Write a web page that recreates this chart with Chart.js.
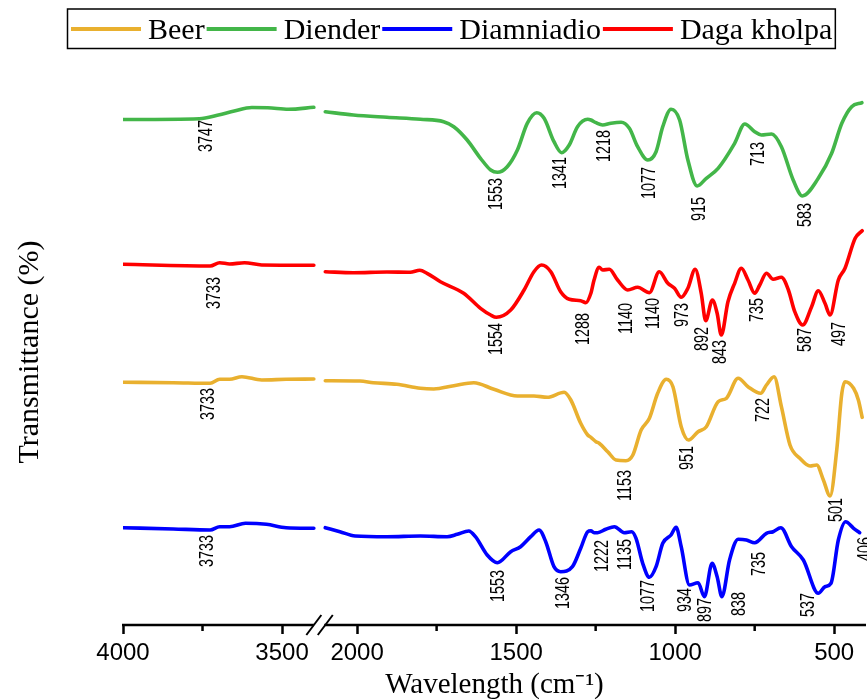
<!DOCTYPE html>
<html><head><meta charset="utf-8">
<script src="https://cdn.jsdelivr.net/npm/chart.js@4.4.1/dist/chart.umd.min.js"></script>
<style>html,body{margin:0;padding:0;background:#fff;}#wrap{width:867px;height:700px;}</style>
</head><body><div id="wrap"><canvas id="c" width="867" height="700"></canvas></div>
<script>
// ---------------- DATA ----------------
const seriesNames = ['Beer', 'Diender', 'Diamniadio', 'Daga kholpa'];
const seriesColors = ['#E9B02F', '#43B649', '#0000FF', '#FF0000'];

// broken wavenumber axis: 4000–3400 and 2100–400 cm-1
const breakGap = 36;
const majorTickLabels = [4000, 3500, 2000, 1500, 1000, 500];
const minorTickValues = [3750, 1750, 1250, 750];

// Beer
const beerWnL = [4000, 3842, 3726, 3696, 3665, 3626, 3564, 3487, 3400];
const beerTL  = [241.7, 241.3, 240.7, 244.7, 244.7, 247.3, 244, 244.7, 245];
const beerWnR = [2100, 1991, 1949, 1875, 1801, 1759, 1696, 1633, 1570, 1496, 1444, 1402, 1349, 1328, 1297, 1275, 1265, 1249, 1239, 1212, 1186, 1155, 1133, 1107, 1081, 1055, 1028, 1007, 981, 958, 928, 902, 865, 839, 802, 771, 731, 713, 689, 666, 639, 608, 576, 555, 534, 513, 492, 476, 466, 439, 424, 412];
const beerTR  = [243.3, 243, 241.3, 239.7, 235.7, 235, 238.3, 241.3, 234.7, 228, 228, 226.7, 231.7, 224, 200.7, 189, 186.7, 182.3, 180.7, 172.3, 164, 163.3, 169, 194, 205.7, 230.7, 244.7, 237.3, 197.3, 184, 192.3, 197.3, 222.3, 225.7, 245.7, 237.3, 230.7, 239, 247.3, 217.3, 179, 165.7, 158, 159, 144, 128, 174, 230.7, 242.3, 235.7, 224, 206.7];

// Diender
const dienderWnL = [4000, 3760, 3700, 3650, 3595, 3545, 3480, 3400];
const dienderTL  = [504.5, 505.3, 509, 513, 516.5, 516.3, 514.7, 516.7];
const dienderWnR = [2100, 2012, 1906, 1801, 1728, 1696, 1654, 1612, 1580, 1559, 1528, 1496, 1465, 1435, 1412, 1381, 1357, 1333, 1307, 1275, 1265, 1249, 1228, 1202, 1170, 1144, 1118, 1086, 1060, 1039, 1013, 986, 960, 931, 902, 865, 813, 781, 750, 729, 697, 666, 629, 600, 550, 508, 476, 445, 413];
const dienderTR  = [512.3, 509, 506.7, 504.7, 502.3, 497.3, 484, 465.7, 454, 451.7, 457.3, 474, 500.7, 511.3, 505.7, 482.3, 471.3, 479, 497.3, 504.7, 504, 501.3, 499, 500.7, 501.7, 495.7, 477.3, 464, 472.3, 497.3, 514.7, 504, 464, 438, 445.7, 455.7, 480.7, 500, 492.3, 489, 490, 477.3, 444, 428, 445.7, 470.7, 500.7, 517.3, 521.3];

// Diamniadio
const diamWnL = [4000, 3842, 3726, 3696, 3665, 3615, 3549, 3487, 3400];
const diamTL  = [96.3, 95, 94, 97.3, 97.3, 100.7, 99.7, 96.3, 95.7];
const diamWnR = [2100, 2054, 2006, 1906, 1801, 1717, 1685, 1649, 1628, 1591, 1559, 1517, 1486, 1454, 1428, 1407, 1381, 1360, 1323, 1297, 1275, 1265, 1255, 1244, 1218, 1191, 1160, 1137, 1123, 1102, 1081, 1060, 1039, 1013, 997, 981, 955, 928, 908, 884, 868, 853, 829, 802, 776, 750, 713, 692, 668, 634, 597, 550, 529, 510, 487, 464, 439, 420];
const diamTR  = [96.3, 92.3, 88, 87.3, 88, 87.3, 89.7, 93, 87.3, 69, 61.3, 72.3, 77.3, 87.3, 94, 82.3, 57.3, 52.3, 57.3, 75.7, 92.3, 93.3, 91.3, 91.3, 94.7, 97.3, 91.3, 92.3, 85.7, 60.7, 46.7, 57.3, 80.7, 89, 96.7, 77.3, 39, 41.3, 27.3, 60.7, 47.3, 27.3, 64, 84.7, 84, 81.3, 90.7, 92.3, 96.3, 77.3, 64, 30.7, 37.3, 40.7, 84, 102.3, 95.7, 91.3];

// Daga kholpa
const dagaWnL = [4000, 3726, 3696, 3665, 3618, 3564, 3400];
const dagaTL  = [359.7, 358, 361.3, 360, 361.3, 359, 358.7];
const dagaWnR = [2100, 2012, 1906, 1833, 1803, 1780, 1738, 1665, 1612, 1580, 1562, 1517, 1475, 1444, 1420, 1391, 1360, 1333, 1297, 1281, 1265, 1255, 1239, 1228, 1207, 1181, 1149, 1118, 1081, 1050, 1023, 1002, 981, 960, 937, 918, 904, 883, 868, 855, 834, 813, 792, 771, 750, 734, 713, 692, 666, 644, 624, 599, 571, 550, 529, 513, 487, 466, 434, 412];
const dagaTR  = [352.3, 351.3, 352, 351.7, 353.7, 350.7, 342.3, 330.7, 315.7, 309, 306.7, 314, 334, 352.3, 359, 352.3, 332.3, 324.7, 323.3, 321.3, 330.7, 344, 356.7, 354, 354.7, 344, 334, 336.7, 331.3, 352.3, 340.7, 335.7, 326.7, 335.7, 354.7, 330.7, 303.3, 324, 310.7, 289, 322.3, 340.7, 355.7, 344, 330.7, 339, 350.7, 344.7, 346.7, 334, 312.3, 299, 317.3, 333.3, 320.7, 309, 344, 355.7, 385.7, 393.3];

// peak annotations: text, wavenumber position, transmittance at label top
const beerPeakText = ['3733', '1153', '951', '722', '501'];
const beerPeakWn   = [3735, 1160, 965, 726, 497];
const beerPeakT    = [236, 154, 178, 226, 126];

const dienderPeakText = ['3747', '1553', '1341', '1218', '1077', '915', '713', '583'];
const dienderPeakWn   = [3741, 1565, 1363, 1224, 1085, 927, 741, 593];
const dienderPeakT    = [504, 446, 467, 494, 457, 427, 482, 421];

const diamPeakText = ['3733', '1553', '1346', '1222', '1135', '1077', '934', '897', '838', '735', '537', '406'];
const diamPeakWn   = [3738, 1559, 1354, 1233, 1160, 1086, 971, 908, 802, 739, 584, 405];
const diamPeakT    = [89, 54, 47, 84, 85, 44, 36, 26, 32, 72, 31, 87];

const dagaPeakText = ['3733', '1554', '1288', '1140', '1140', '973', '892', '843', '735', '587', '497'];
const dagaPeakWn   = [3716, 1565, 1291, 1155, 1070, 979, 918, 860, 744, 592, 487];
const dagaPeakT    = [347, 301, 311, 321, 326, 321, 297, 284, 326, 296, 302];

// ---------------- AXIS MAPPING ----------------
function toAxis(wn) { return wn >= 3000 ? 4000 - wn : 600 + breakGap + (2100 - wn); }
function fromAxis(u) { return u <= 600 ? 4000 - u : 2100 - (u - 600 - breakGap); }
const U_MAX = toAxis(400);
const majorU = majorTickLabels.map(toAxis);
const allTicksU = majorU.concat(minorTickValues.map(toAxis)).sort((a, b) => a - b);

function makePoints(wnL, tL, wnR, tR) {
  const pts = wnL.map((w, i) => ({ x: toAxis(w), y: tL[i] }));
  pts.push({ x: (toAxis(3400) + toAxis(2100)) / 2, y: null });
  wnR.forEach((w, i) => pts.push({ x: toAxis(w), y: tR[i] }));
  return pts;
}

const seriesPoints = [
  makePoints(beerWnL, beerTL, beerWnR, beerTR),
  makePoints(dienderWnL, dienderTL, dienderWnR, dienderTR),
  makePoints(diamWnL, diamTL, diamWnR, diamTR),
  makePoints(dagaWnL, dagaTL, dagaWnR, dagaTR)
];
const peakSets = [
  [beerPeakText, beerPeakWn, beerPeakT],
  [dienderPeakText, dienderPeakWn, dienderPeakT],
  [diamPeakText, diamPeakWn, diamPeakT],
  [dagaPeakText, dagaPeakWn, dagaPeakT]
];

const SANS = '"Liberation Sans", Arial, sans-serif';
const SERIF = '"Liberation Serif", "Times New Roman", serif';

const decorPlugin = {
  id: 'decor',
  afterDraw(chart) {
    const { ctx, chartArea, scales: { x, y } } = chart;
    const ay = chartArea.bottom + 1;
    ctx.save();
    // broken axis line
    ctx.strokeStyle = '#000';
    ctx.lineWidth = 2.5;
    [[0, toAxis(3400)], [toAxis(2100), U_MAX]].forEach(([a, b]) => {
      ctx.beginPath();
      ctx.moveTo(x.getPixelForValue(a) - 1, ay);
      ctx.lineTo(x.getPixelForValue(b), ay);
      ctx.stroke();
    });
    // break marks
    ctx.lineWidth = 2;
    [toAxis(3400), toAxis(2100)].forEach(u => {
      const px = x.getPixelForValue(u);
      ctx.beginPath();
      ctx.moveTo(px - 7.5, ay + 10);
      ctx.lineTo(px + 7.5, ay - 10);
      ctx.stroke();
    });
    // minor ticks
    ctx.lineWidth = 2.5;
    minorTickValues.forEach(w => {
      const px = x.getPixelForValue(toAxis(w));
      ctx.beginPath();
      ctx.moveTo(px, ay);
      ctx.lineTo(px, ay + 6);
      ctx.stroke();
    });
    // peak labels (rotated, slightly condensed)
    ctx.fillStyle = '#000';
    ctx.font = '20px ' + SANS;
    ctx.textAlign = 'right';
    ctx.textBaseline = 'middle';
    peakSets.forEach(([txt, wn, tv]) => {
      txt.forEach((t, i) => {
        const px = x.getPixelForValue(toAxis(wn[i]));
        const py = y.getPixelForValue(tv[i]);
        ctx.save();
        ctx.translate(px, py);
        ctx.rotate(-Math.PI / 2);
        ctx.scale(0.72, 1);
        ctx.fillText(t, 0, 1);
        ctx.restore();
      });
    });
    // legend
    ctx.font = '30px ' + SERIF;
    ctx.textAlign = 'left';
    ctx.textBaseline = 'alphabetic';
    let lx = 71;
    const ly = 29, lineLen = 70;
    seriesNames.forEach((n, i) => {
      ctx.strokeStyle = seriesColors[i];
      ctx.lineWidth = 4;
      ctx.beginPath();
      ctx.moveTo(lx, ly);
      ctx.lineTo(lx + lineLen, ly);
      ctx.stroke();
      ctx.fillStyle = '#000';
      ctx.fillText(n, lx + lineLen + 7, 39);
      lx += lineLen + 7 + ctx.measureText(n).width + 2;
    });
    ctx.strokeStyle = '#000';
    ctx.lineWidth = 1.5;
    ctx.strokeRect(67.5, 9, lx - 67.5 + 1, 39.5);
    ctx.restore();
  }
};

new Chart(document.getElementById('c'), {
  type: 'line',
  data: {
    datasets: seriesNames.map((n, i) => ({
      label: n,
      data: seriesPoints[i],
      borderColor: seriesColors[i],
      backgroundColor: seriesColors[i],
      fill: false,
      spanGaps: false
    }))
  },
  options: {
    responsive: false,
    animation: false,
    devicePixelRatio: 1,
    layout: { padding: { top: 80, right: 1, left: 0, bottom: 0 } },
    plugins: { legend: { display: false }, tooltip: { enabled: false } },
    elements: {
      point: { radius: 0 },
      line: { borderWidth: 3.6, cubicInterpolationMode: 'monotone', borderCapStyle: 'round', borderJoinStyle: 'round' }
    },
    scales: {
      x: {
        type: 'linear', min: 0, max: U_MAX,
        afterBuildTicks: s => { s.ticks = allTicksU.map(v => ({ value: v })); },
        afterFit: s => { s.height = 76; },
        ticks: {
          autoSkip: false, maxRotation: 0, minRotation: 0, padding: 5, color: '#000',
          font: { family: SANS, size: 24 },
          callback: v => majorU.includes(v) ? String(Math.round(fromAxis(v))) : ''
        },
        grid: {
          display: true, drawOnChartArea: false, drawTicks: true, tickLength: 10, tickWidth: 2.5,
          tickColor: c => (c.tick && majorU.includes(c.tick.value)) ? '#000' : 'rgba(0,0,0,0)'
        },
        border: { display: false },
        title: {
          display: true, text: 'Wavelength (cm\u207B\u00B9)', color: '#000',
          font: { family: SERIF, size: 29, lineHeight: 1 }, padding: { top: 0, bottom: 0 }
        }
      },
      y: {
        min: 0, max: 544,
        afterFit: s => { s.width = 123; },
        ticks: { display: false },
        grid: { display: false, drawTicks: false },
        border: { display: false },
        title: {
          display: true, text: 'Transmittance (%)', color: '#000',
          font: { family: SERIF, size: 30, lineHeight: 1.2 }, padding: { top: 12, bottom: 0 }
        }
      }
    }
  },
  plugins: [decorPlugin]
});
</script></body></html>
